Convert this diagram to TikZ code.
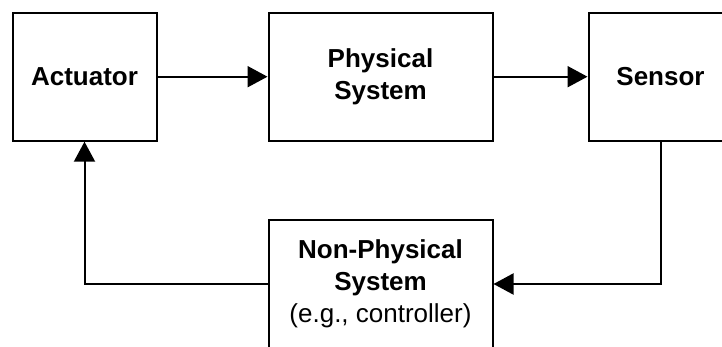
\documentclass[tikz,border=0pt]{standalone}
\usepackage{fontspec}
\setmainfont{Liberation Sans}
\usetikzlibrary{arrows.meta}
\begin{document}
\begin{tikzpicture}[x=1pt,y=-1pt,
  blockbox/.style={draw, line width=2pt, minimum width=144pt, minimum height=128pt,
    inner sep=0pt, align=center, font=\fontsize{26}{32}\selectfont\bfseries},
  conn/.style={line width=2pt, -{Triangle[length=20pt,width=21pt]}}]
\useasboundingbox (0,0) rectangle (722,347);
\clip (0,0) rectangle (722,347);
\node[blockbox] (act) at (84.5,76.7) {Actuator};
\node[blockbox, minimum width=224pt] (phys) at (380.5,76.7) {Physical\\System};
\node[blockbox] (sens) at (660.5,76.7) {Sensor};
\node[blockbox, minimum width=224pt] (nps) at (380.5,284) {Non-Physical\\System\\{\mdseries (e.g., controller)}};
\draw[conn] (act) -- (phys);
\draw[conn] (phys) -- (sens);
\draw[conn] (sens.south) |- (nps.east);
\draw[conn] (nps.west) -| (act.south);
\end{tikzpicture}
\end{document}
